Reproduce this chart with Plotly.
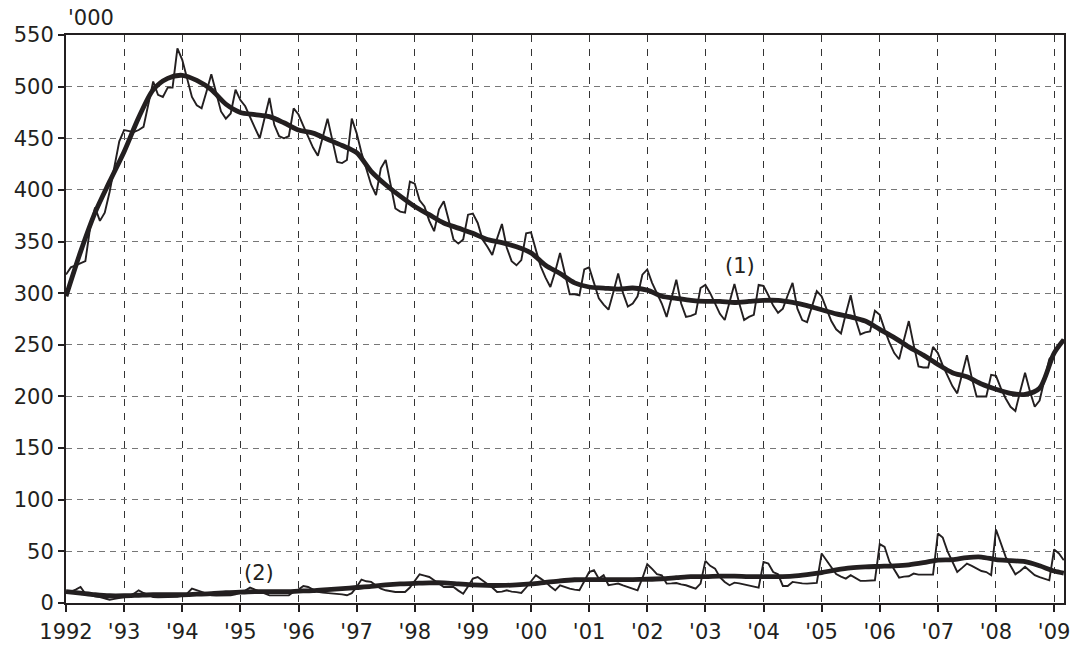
import numpy as np
import plotly.graph_objects as go

# ---------------- data ----------------
# Series (1): monthly raw values, Jan 1992 - Mar 2009 ('000)
s1_raw = (
    [318, 325, 327, 329, 331, 364, 383, 370, 378, 398, 421, 447] +   # 1992
    [458, 457, 456, 458, 461, 483, 505, 492, 490, 499, 499, 537] +   # 1993
    [526, 508, 490, 482, 479, 495, 512, 494, 476, 469, 474, 497] +   # 1994
    [487, 481, 470, 460, 450, 469, 489, 463, 452, 450, 452, 479] +   # 1995
    [473, 462, 451, 441, 433, 451, 469, 448, 427, 426, 429, 469] +   # 1996
    [455, 436, 420, 405, 395, 421, 429, 405, 382, 379, 378, 408] +   # 1997
    [406, 390, 384, 370, 360, 381, 389, 371, 352, 348, 352, 376] +   # 1998
    [377, 368, 352, 345, 337, 353, 367, 344, 331, 327, 332, 358] +   # 1999
    [359, 342, 326, 315, 306, 321, 339, 319, 299, 299, 298, 323] +   # 2000
    [325, 310, 295, 289, 284, 301, 319, 300, 287, 290, 297, 318] +   # 2001
    [323, 310, 300, 290, 277, 295, 313, 290, 277, 278, 280, 305] +   # 2002
    [308, 300, 290, 280, 274, 292, 309, 290, 274, 277, 279, 308] +   # 2003
    [307, 298, 288, 281, 285, 298, 310, 285, 274, 272, 287, 302] +   # 2004
    [297, 285, 273, 265, 261, 280, 298, 275, 260, 262, 263, 283] +   # 2005
    [279, 265, 252, 242, 236, 255, 273, 250, 229, 228, 228, 248] +   # 2006
    [242, 230, 220, 210, 203, 222, 240, 218, 200, 200, 200, 221] +   # 2007
    [220, 208, 198, 190, 186, 205, 223, 205, 190, 196, 215, 236] +   # 2008
    [242, 250, 255]                                                   # 2009
)

# Series (2): monthly raw values
s2_raw = (
    [11, 11, 13, 15.5, 9, 7.5, 6.5, 5.8, 4.5, 3.2, 4, 5] +
    [6, 6.5, 9, 12.3, 9.7, 7.5, 5.8, 5.5, 5.5, 5.6, 5.8, 6] +
    [7, 9, 13.9, 12, 10.7, 9, 7.4, 7.3, 7.3, 7.4, 7.4, 8.5] +
    [10, 12, 14.9, 13, 10.7, 9, 7.4, 7.4, 7.4, 7.4, 7.4, 11] +
    [13, 16.5, 15.5, 13, 10.7, 10, 9.7, 9.7, 9, 8.4, 7.5, 9.5] +
    [15.5, 22.7, 21, 20.4, 17, 14, 12.3, 11.5, 10.7, 10.7, 10.7, 15] +
    [21, 27.8, 26.5, 25.2, 22, 18.5, 15.5, 15.5, 15.5, 12, 9, 16] +
    [23.6, 25.2, 22, 18.8, 15, 10.7, 11, 12.3, 11, 10.5, 9.7, 15] +
    [20.4, 26.9, 23.6, 20.4, 16, 12.3, 17.2, 15.5, 13.9, 13, 12.3, 21] +
    [30, 31.7, 23.6, 26.9, 17.2, 18, 18.8, 17, 15.5, 14, 12.3, 24] +
    [37.5, 33, 28, 26.9, 18.8, 19, 19.4, 18, 17.2, 15.5, 13.9, 18.8] +
    [40.8, 36, 33.3, 25, 20.4, 17.2, 19.7, 19, 18.1, 17, 16, 14.9] +
    [39.8, 38.2, 30, 27.8, 16.5, 16.5, 20.4, 19.4, 19, 18.8, 19, 19.4] +
    [47.9, 41.4, 35, 28, 25.5, 23.6, 26.9, 24, 21.4, 21.4, 22, 22] +
    [57, 54.4, 40, 32.4, 24.6, 25.5, 25.9, 28.5, 27.5, 27.5, 27.5, 27.5] +
    [67.3, 63.4, 50, 39.8, 30, 34, 38.2, 36, 33.3, 31, 30, 26.9] +
    [71.2, 58, 44.7, 36, 27.8, 31, 35, 31, 27, 25, 23.5, 22] +
    [51.8, 48, 41.4]
)

# Trend lines: quarterly readings (Jan, Apr, Jul, Oct) from Jan 1992 to Jan 2009, plus Mar 2009
s1_trend_q = [297, 340, 378, 408, 437, 470, 497, 508, 511, 506, 497, 483,
              475, 473, 471, 465, 458, 455, 449, 443, 436, 418, 405, 394,
              384, 376, 368, 363, 358, 352, 349, 345, 339, 327, 319, 310,
              306, 305, 304, 305, 303, 297, 295, 293, 292, 292, 291, 292,
              293, 293, 291, 288, 284, 280, 277, 273, 265, 257, 248, 240,
              231, 223, 219, 212, 207, 203, 202, 208, 242]
s1_trend_end = 255
s2_trend_q = [11, 9.5, 8, 7, 7, 7.5, 8, 8, 8, 8.5, 9, 10,
              10.5, 11, 11, 11, 11.5, 12, 13, 14, 15, 16, 17.5, 18.5,
              19, 19.5, 19.5, 18.5, 17.5, 17, 17, 17.5, 18.5, 20, 21.5, 22.5,
              22.7, 22.7, 22.7, 22.7, 23, 23.5, 24.5, 25.5, 25.5, 26, 26, 25.5,
              25.5, 25.5, 26, 27.5, 29.5, 32, 34, 35, 35.5, 36, 37, 39,
              41.5, 42, 44, 44.5, 42, 41, 40, 36, 31]
s2_trend_end = 29

year_ticks = list(range(1992, 2010))
year_labels = ["1992", "'93", "'94", "'95", "'96", "'97", "'98", "'99", "'00",
               "'01", "'02", "'03", "'04", "'05", "'06", "'07", "'08", "'09"]
y_ticks = list(range(0, 551, 50))

# ---------------- positions on the time axis ----------------
start_year = 1992
x_month = start_year + np.arange(len(s1_raw)) / 12.0
x_trend = list(start_year + np.arange(len(s1_trend_q)) * 0.25) + [x_month[-1]]
t1 = list(s1_trend_q) + [s1_trend_end]
t2 = list(s2_trend_q) + [s2_trend_end]

INK = "#231f20"
FONT = "DejaVu Sans"

fig = go.Figure()
fig.add_trace(go.Scatter(x=x_month, y=s1_raw, mode="lines",
                         line=dict(color=INK, width=1.9), hoverinfo="skip"))
fig.add_trace(go.Scatter(x=x_month, y=s2_raw, mode="lines",
                         line=dict(color=INK, width=1.9), hoverinfo="skip"))
fig.add_trace(go.Scatter(x=x_trend, y=t1, mode="lines",
                         line=dict(color=INK, width=4.8, shape="spline", smoothing=0.8),
                         hoverinfo="skip"))
fig.add_trace(go.Scatter(x=x_trend, y=t2, mode="lines",
                         line=dict(color=INK, width=4.8, shape="spline", smoothing=0.8),
                         hoverinfo="skip"))

fig.add_annotation(x=2003.59, y=326, text="(1)", showarrow=False,
                   font=dict(family=FONT, size=21, color=INK))
fig.add_annotation(x=1995.32, y=29.5, text="(2)", showarrow=False,
                   font=dict(family=FONT, size=21, color=INK))
fig.add_annotation(xref="paper", yref="paper", x=0.0, y=1.0, xanchor="left",
                   yanchor="bottom", yshift=3, text="'000", showarrow=False,
                   font=dict(family=FONT, size=21, color=INK))

fig.update_layout(
    template="none",
    width=1081, height=646,
    margin=dict(l=66, r=17, t=35, b=43, autoexpand=False),
    paper_bgcolor="white", plot_bgcolor="white",
    showlegend=False,
    font=dict(family=FONT, size=21, color=INK),
)
fig.update_xaxes(
    automargin=False,
    range=[1992, 2009.17], tickmode="array", tickvals=year_ticks, ticktext=year_labels,
    showgrid=True, gridcolor="#333333", gridwidth=1, griddash="7px,7px",
    showline=True, linecolor=INK, linewidth=2, mirror=True,
    ticks="outside", ticklen=7, tickwidth=1.5, tickcolor=INK,
    ticklabelstandoff=2,
    tickfont=dict(family=FONT, size=21, color=INK), zeroline=False,
)
fig.update_yaxes(
    automargin=False,
    range=[0, 550], tickmode="array", tickvals=y_ticks,
    showgrid=True, gridcolor="#777777", gridwidth=1, griddash="6px,5px",
    showline=True, linecolor=INK, linewidth=2, mirror=True,
    ticks="outside", ticklen=6, tickwidth=1.5, tickcolor=INK,
    tickfont=dict(family=FONT, size=21, color=INK), zeroline=False,
)

fig.write_html("out.html")
